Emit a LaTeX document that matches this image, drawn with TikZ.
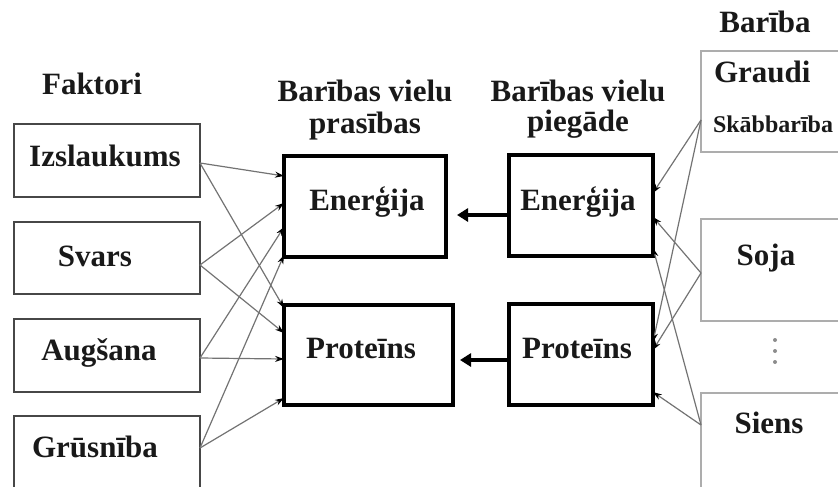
\documentclass[tikz,border=0pt]{standalone}
\usepackage{fontspec}
\setmainfont{Liberation Serif}
\usetikzlibrary{arrows.meta,calc}

\begin{document}
\begin{tikzpicture}[x=1pt,y=-1pt,
  every node/.style={inner sep=0pt, outer sep=0pt},
  txt/.style={font=\fontsize{31}{32}\selectfont\bfseries, text=black!90, anchor=base},
  smalltxt/.style={font=\fontsize{24}{25}\selectfont\bfseries, text=black!90, anchor=base west},
  factorbox/.style={draw=black!72, line width=2.5pt, rectangle, anchor=north west},
  nutrbox/.style={draw=black, line width=4pt, rectangle, anchor=north west},
  feedbox/.style={draw=black!32, line width=1.6pt, rectangle, anchor=north west},
  link/.style={draw=black!55, line width=1.2pt, -{Stealth[length=9pt,width=6pt,color=black]}},
  flow/.style={draw=black, line width=4pt, -{Triangle[length=11pt,width=13pt]}},
]
\useasboundingbox (0,0) rectangle (838,487);
\clip (0,0) rectangle (838,487);

% factor column
\node[factorbox, minimum width=186pt, minimum height=73pt] (izsB) at (14,124) {};
\node[factorbox, minimum width=186pt, minimum height=72pt] (svaB) at (14,222) {};
\node[factorbox, minimum width=186pt, minimum height=73pt] (augB) at (14,319) {};
\node[factorbox, minimum width=186pt, minimum height=100pt] (gruB) at (14,416) {};

\node[txt] (faktori) at (92,95) {Faktori};
\node[txt] (izsT) at (105,166) {Izslaukums};
\node[txt] (svaT) at (95,266) {Svars};
\node[txt] (augT) at (99,360) {Augšana};
\node[txt] (gruT) at (95,457) {Grūsnība};

% nutrient requirement column
\node[nutrbox, minimum width=162pt, minimum height=101pt] (prE) at (284,156) {};
\node[nutrbox, minimum width=169pt, minimum height=100pt] (prP) at (284,305) {};
\node[txt] (prH1) at (365,102) {Barības vielu};
\node[txt] (prH2) at (365,133) {prasības};
\node[txt] (prET) at (367,210) {Enerģija};
\node[txt] (prPT) at (361,358) {Proteīns};

% nutrient supply column
\node[nutrbox, minimum width=144pt, minimum height=101pt] (piE) at (509,155) {};
\node[nutrbox, minimum width=144pt, minimum height=101pt] (piP) at (509,304) {};
\node[txt] (piH1) at (578,102) {Barības vielu};
\node[txt] (piH2) at (578,131) {piegāde};
\node[txt] (piET) at (578,210) {Enerģija};
\node[txt] (piPT) at (577,358) {Proteīns};

% feed column
\node[feedbox, minimum width=200pt, minimum height=101pt] (grB) at (701,51) {};
\node[feedbox, minimum width=200pt, minimum height=102pt] (soB) at (701,219) {};
\node[feedbox, minimum width=200pt, minimum height=130pt] (siB) at (701,393) {};
\node[txt] (bariba) at (765,33) {Barība};
\node[txt, anchor=base west] (grT) at (714,82) {Graudi};
\node[smalltxt] (skT) at (713,132) {Skābbarība};
\node[txt] (soT) at (766,265) {Soja};
\node[txt] (siT) at (769,433) {Siens};
\foreach \yy in {340,351,362} \fill[black!45] (775,\yy) circle (2pt);

% factors -> requirements
\draw[link] ([yshift=-39pt]izsB.north east) -- ([yshift=-20pt]prE.north west);
\draw[link] ([yshift=-39pt]izsB.north east) -- ([yshift=-3pt]prP.north west);
\draw[link] ([yshift=-43pt]svaB.north east) -- ([yshift=-47pt]prE.north west);
\draw[link] ([yshift=-43pt]svaB.north east) -- ([yshift=-28pt]prP.north west);
\draw[link] ([yshift=-39pt]augB.north east) -- ([yshift=-71pt]prE.north west);
\draw[link] ([yshift=-39pt]augB.north east) -- ([yshift=-54pt]prP.north west);
\draw[link] ([yshift=-32pt]gruB.north east) -- ([yshift=-99pt]prE.north west);
\draw[link] ([yshift=-32pt]gruB.north east) -- ([yshift=-93pt]prP.north west);

% feeds -> supply
\draw[link] ([yshift=-69pt]grB.north west) -- ([yshift=-38pt]piE.north east);
\draw[link] ([yshift=-69pt]grB.north west) -- ([yshift=-38pt]piP.north east);
\draw[link] ([yshift=-54pt]soB.north west) -- ([yshift=-62pt]piE.north east);
\draw[link] ([yshift=-54pt]soB.north west) -- ([yshift=-46pt]piP.north east);
\draw[link] ([yshift=-32pt]siB.north west) -- ([yshift=-93pt]piE.north east);
\draw[link] ([yshift=-32pt]siB.north west) -- ([yshift=-88pt]piP.north east);

% supply -> requirements
\draw[flow, shorten >=11pt] ([yshift=-60pt]piE.north west) -- ([yshift=-59pt]prE.north east);
\draw[flow, shorten >=7pt] ([yshift=-56pt]piP.north west) -- ([yshift=-55pt]prP.north east);
\end{tikzpicture}
\end{document}
